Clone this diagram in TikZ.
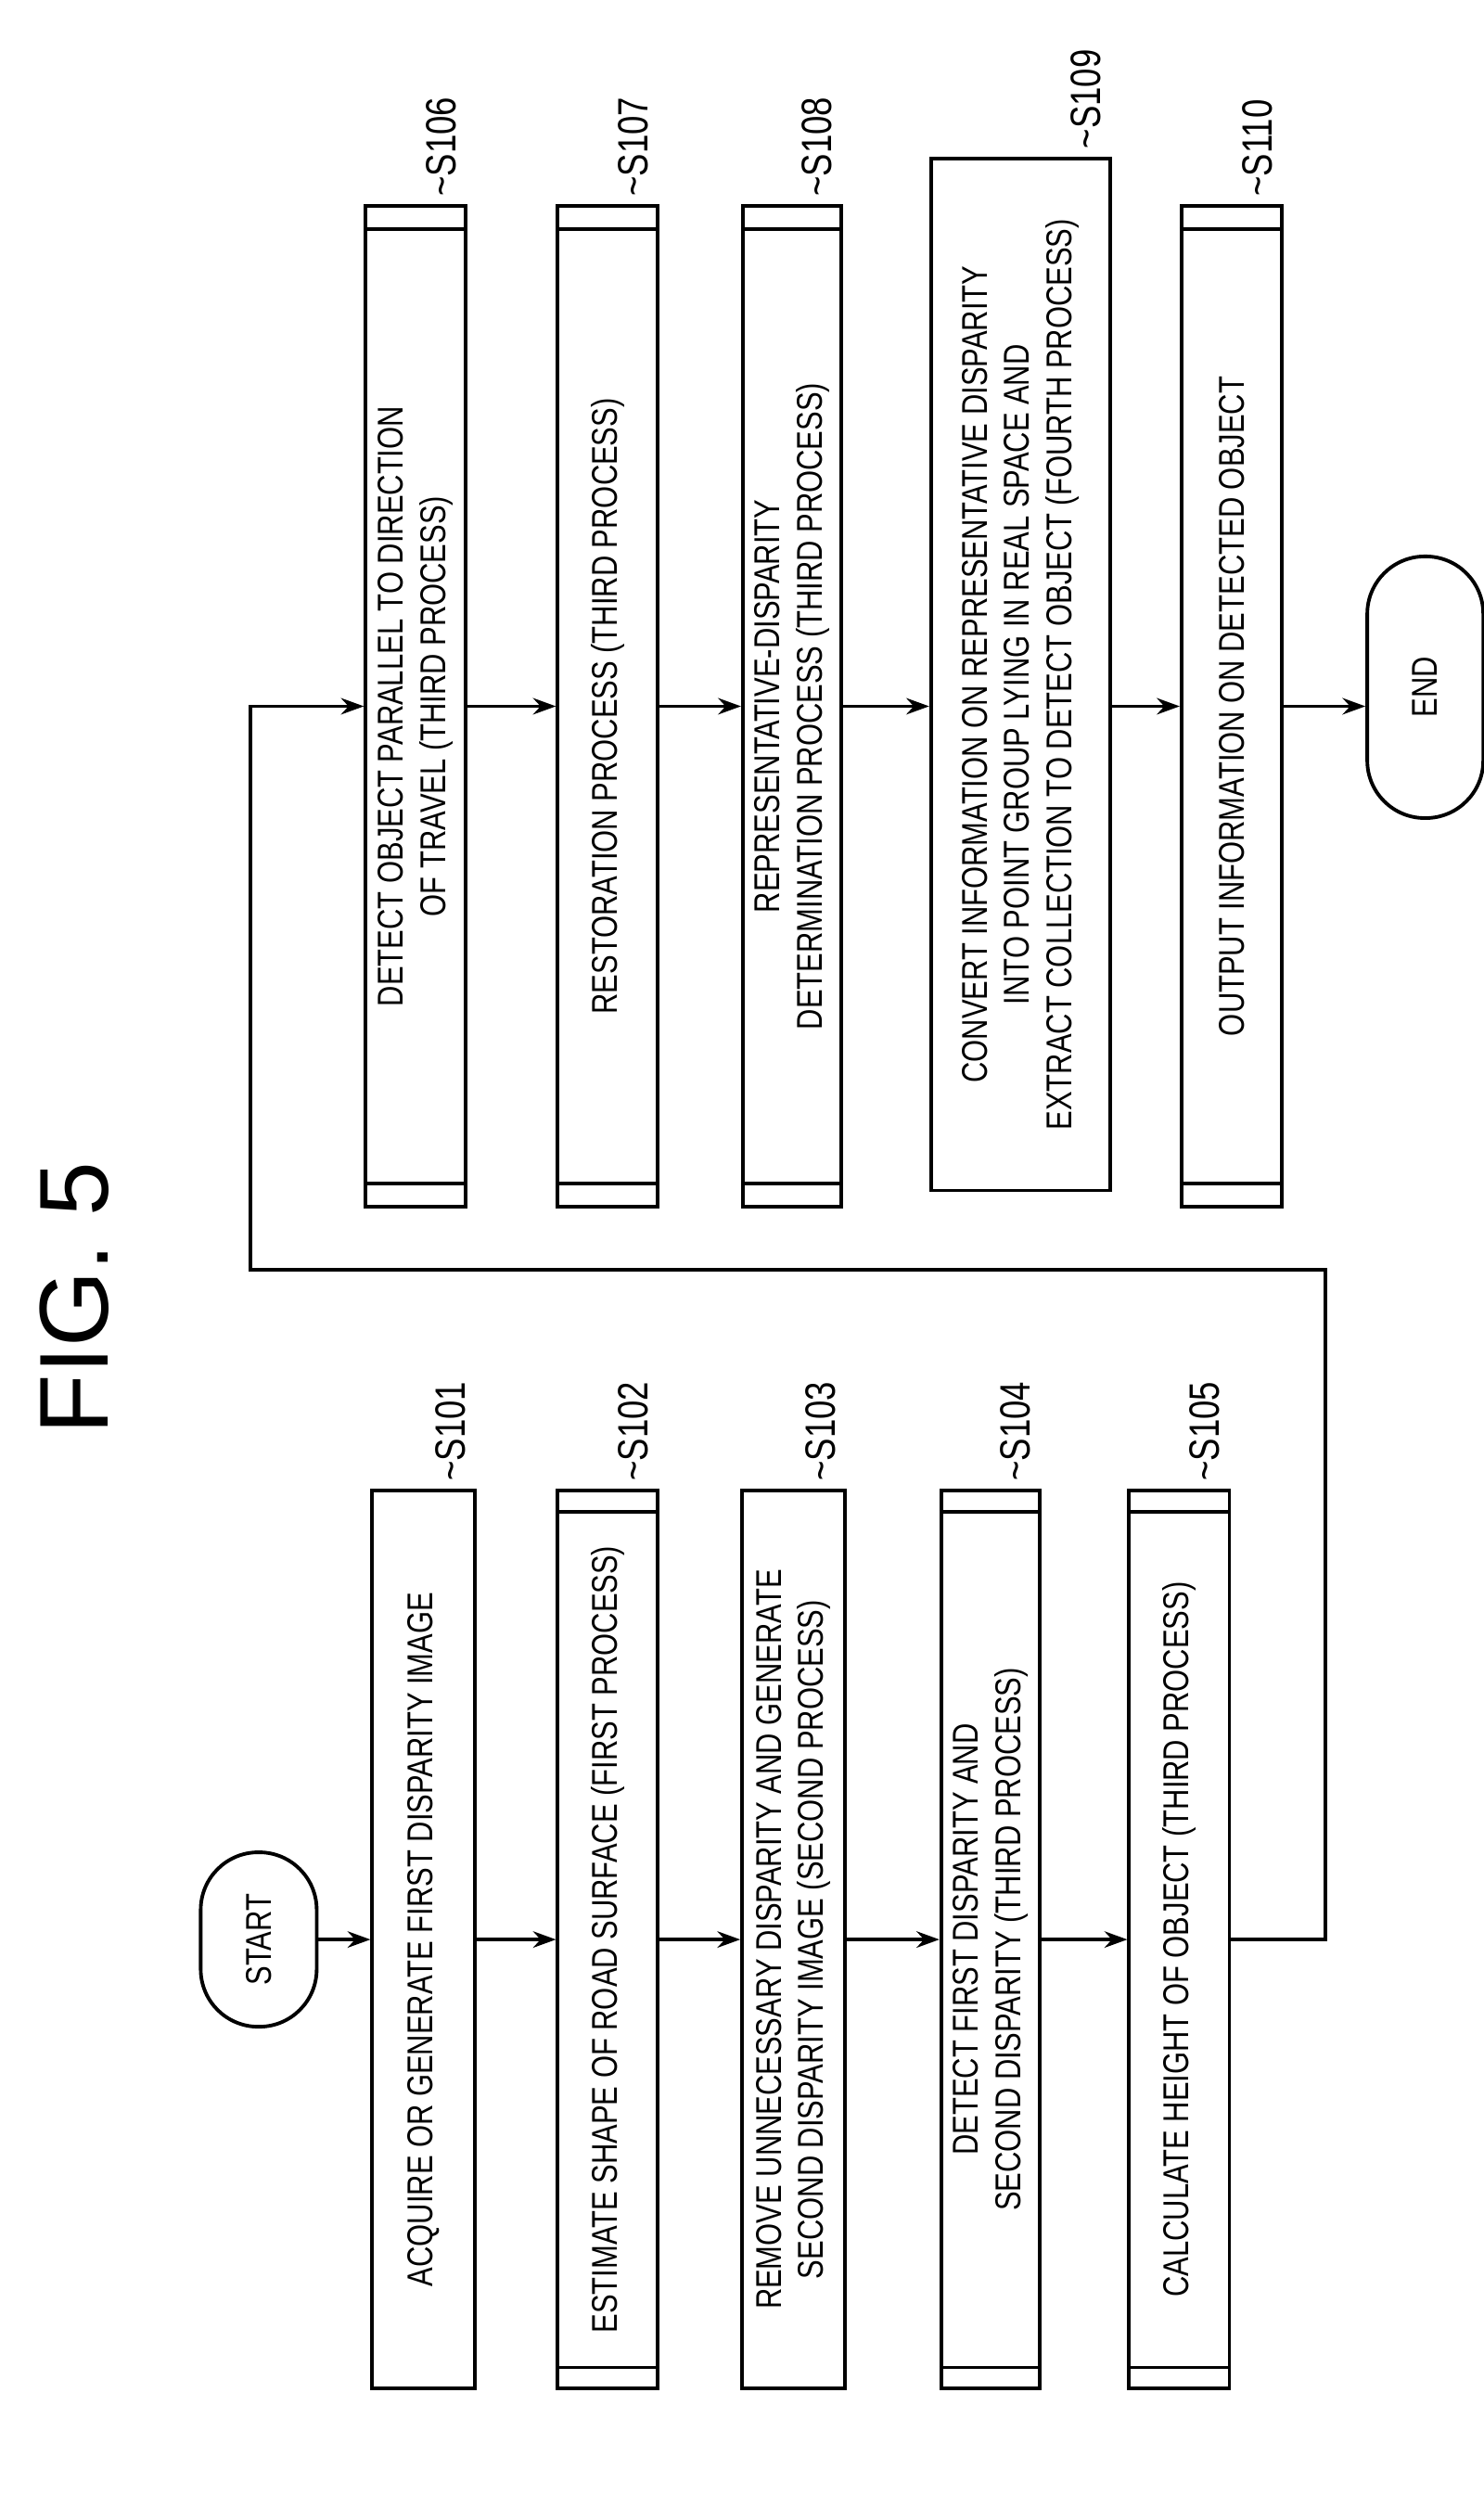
\documentclass[tikz,border=0pt]{standalone}
\usepackage{fontspec}
\setmainfont{Liberation Sans}[FakeStretch=0.8]
\newfontfamily\figfont{Liberation Sans}
\usetikzlibrary{calc,arrows.meta}

\tikzset{
    box/.style={draw, rotate=90, align=center, inner sep=2pt,
        font=\fontsize{11}{13}\selectfont},
    term/.style={box, rounded corners=0.62cm, minimum height=1.25cm},
    steplbl/.style={rotate=90, anchor=south west, inner sep=1pt,
        font=\fontsize{13}{15}\selectfont},
    flow/.style={-{Stealth[length=7pt,width=5pt]}},
}

\begin{document}
\begin{tikzpicture}[
        x=0.01711cm, y=-0.01711cm,
        line width=1.1pt
    ]
    \useasboundingbox (0,0) rectangle (935,1572);

    \node[rotate=90, font=\figfont\fontsize{30}{34}\selectfont] (title) at (47,818) {FIG. 5};

    % left column
    \node[term, minimum width=1.88cm] (start) at (163,1222) {START};
    \node[box, minimum width=9.67cm, minimum height=1.11cm] (s101) at (267,1222)
        {ACQUIRE OR GENERATE FIRST DISPARITY IMAGE};
    \node[box, minimum width=9.67cm, minimum height=1.08cm] (s102) at (383,1222)
        {ESTIMATE SHAPE OF ROAD SURFACE (FIRST PROCESS)};
    \node[box, minimum width=9.67cm, minimum height=1.11cm] (s103) at (500,1222)
        {REMOVE UNNECESSARY DISPARITY AND GENERATE\\SECOND DISPARITY IMAGE (SECOND PROCESS)};
    \node[box, minimum width=9.67cm, minimum height=1.06cm] (s104) at (624,1222)
        {DETECT FIRST DISPARITY AND\\SECOND DISPARITY (THIRD PROCESS)};
    \node[box, minimum width=9.67cm, minimum height=1.08cm] (s105) at (743,1222)
        {CALCULATE HEIGHT OF OBJECT (THIRD PROCESS)};

    % right column
    \node[box, minimum width=10.78cm, minimum height=1.08cm] (s106) at (262,445)
        {DETECT OBJECT PARALLEL TO DIRECTION\\OF TRAVEL (THIRD PROCESS)};
    \node[box, minimum width=10.78cm, minimum height=1.08cm] (s107) at (383,445)
        {RESTORATION PROCESS (THIRD PROCESS)};
    \node[box, minimum width=10.78cm, minimum height=1.06cm] (s108) at (499,445)
        {REPRESENTATIVE-DISPARITY\\DETERMINATION PROCESS (THIRD PROCESS)};
    \node[box, minimum width=11.12cm, minimum height=1.93cm] (s109) at (643,425)
        {CONVERT INFORMATION ON REPRESENTATIVE DISPARITY\\INTO POINT GROUP LYING IN REAL SPACE AND\\EXTRACT COLLECTION TO DETECT OBJECT (FOURTH PROCESS)};
    \node[box, minimum width=10.78cm, minimum height=1.08cm] (s110) at (776,445)
        {OUTPUT INFORMATION ON DETECTED OBJECT};
    \node[term, minimum width=2.82cm] (end) at (898,433) {END};

    % double lines of the predefined process boxes
    \foreach \n in {s102,s104,s105,s106,s107,s108,s110} {
        \draw ($(\n.north west)!0.025!(\n.north east)$) -- ($(\n.south west)!0.025!(\n.south east)$);
        \draw ($(\n.north west)!0.975!(\n.north east)$) -- ($(\n.south west)!0.975!(\n.south east)$);
    }

    % step labels
    \foreach \n/\t in {s101/S101,s102/S102,s103/S103,s104/S104,s105/S105,
                       s106/S106,s107/S107,s108/S108,s109/S109,s110/S110}
        \node[steplbl] (l\n) at ($(\n.south east)+(-4,-2)$) {\textasciitilde\t};

    % connectors
    \draw[flow] (start) -- (s101);
    \draw[flow] (s101) -- (s102);
    \draw[flow] (s102) -- (s103);
    \draw[flow] (s103) -- (s104);
    \draw[flow] (s104) -- (s105);
    \coordinate (c1) at (835,1222);
    \coordinate (c2) at (835,800);
    \coordinate (c3) at (158,800);
    \coordinate (c4) at (158,445);
    \draw[flow] (s105) -- (c1) -- (c2) -- (c3) -- (c4) -- (s106);
    \draw[flow] (s106) -- (s107);
    \draw[flow] (s107) -- (s108);
    \draw[flow] (s108) -- (s108 -| s109.north);
    \draw[flow] (s109.south |- s110) -- (s110);
    \draw[flow] (s110) -- (s110 -| end.north);
\end{tikzpicture}
\end{document}
